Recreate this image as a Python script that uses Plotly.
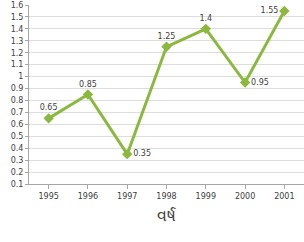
import plotly.graph_objects as go

years = ["1995", "1996", "1997", "1998", "1999", "2000", "2001"]
values = [0.65, 0.85, 0.35, 1.25, 1.4, 0.95, 1.55]
labels = ["0.65", "0.85", "0.35", "1.25", "1.4", "0.95", "1.55"]
label_pos = ["top center", "top center", "middle right", "top center",
             "top center", "middle right", "middle left"]
y_ticks = [0.1, 0.2, 0.3, 0.4, 0.5, 0.6, 0.7, 0.8, 0.9, 1.0,
           1.1, 1.2, 1.3, 1.4, 1.5, 1.6]
y_tick_text = ["0.1", "0.2", "0.3", "0.4", "0.5", "0.6", "0.7", "0.8", "0.9", "1",
               "1.1", "1.2", "1.3", "1.4", "1.5", "1.6"]
x_title = "વર્ષ"

fig = go.Figure()
fig.add_trace(go.Scatter(
    x=years, y=values, mode="lines+markers+text",
    text=labels, textposition=label_pos,
    textfont=dict(family="DejaVu Sans", size=8, color="#404040"),
    line=dict(color="#8BB83F", width=3),
    marker=dict(symbol="diamond", size=8, color="#8BB83F"),
    cliponaxis=False,
))

fig.add_annotation(
    text=x_title, x=0.5, xref="paper", y=-0.175, yref="paper",
    xanchor="center", yanchor="middle", showarrow=False,
    font=dict(family="Noto Sans, DejaVu Sans", size=16, color="#404040"),
)

fig.update_layout(
    width=304, height=242,
    margin=dict(l=29, r=0, t=5, b=58),
    paper_bgcolor="white", plot_bgcolor="white",
    showlegend=False,
    xaxis=dict(
        type="category", range=[-0.5, 6.5], automargin=False,
        showgrid=False, showline=True, linecolor="#A6A6A6", linewidth=1,
        ticks="outside", ticklen=4, tickcolor="#A6A6A6",
        tickfont=dict(family="DejaVu Sans", size=8, color="#404040"),
    ),
    yaxis=dict(
        range=[0.1, 1.6], tickvals=y_ticks, ticktext=y_tick_text, automargin=False,
        showgrid=True, gridcolor="#DDDDDD", gridwidth=1,
        showline=True, linecolor="#A6A6A6", linewidth=1,
        ticks="outside", ticklen=3, tickcolor="#A6A6A6",
        tickfont=dict(family="DejaVu Sans", size=8, color="#404040"),
        zeroline=False,
    ),
)

fig.write_html("out.html", config={"displayModeBar": False},
               post_script="document.body.style.margin='0';")
